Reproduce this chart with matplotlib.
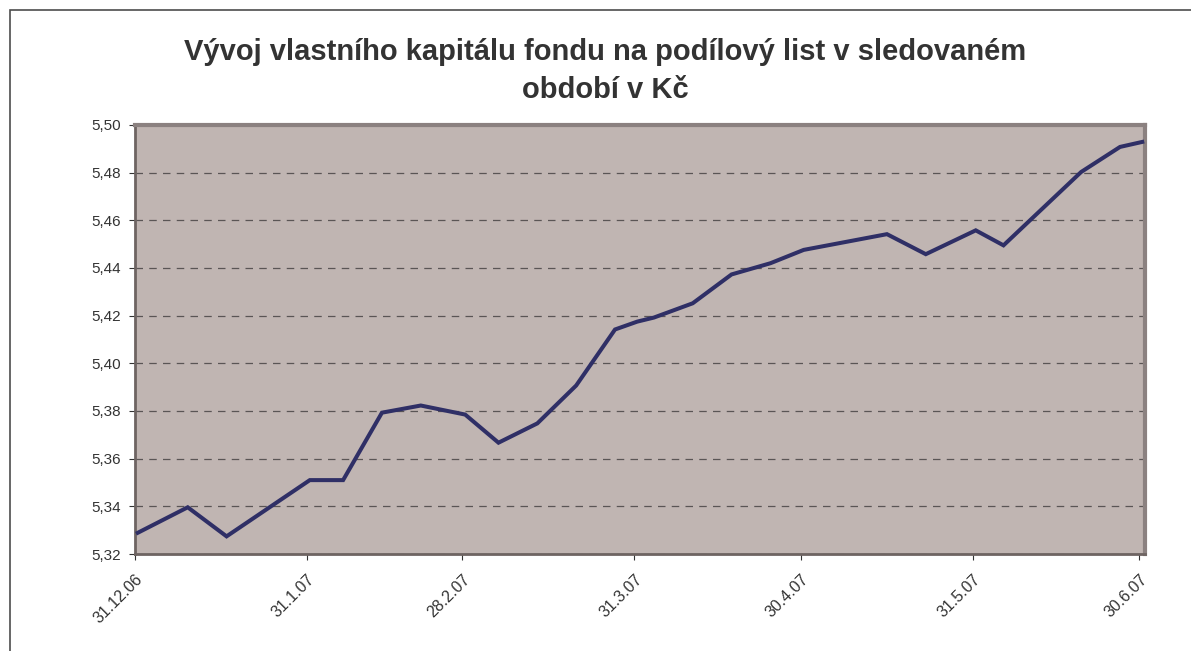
import matplotlib
matplotlib.use("Agg")
import matplotlib.pyplot as plt
import pandas as pd
from matplotlib.patches import Rectangle

plt.rcParams['font.family'] = ['Liberation Sans', 'DejaVu Sans']

# Data
dates = ["2006-12-31", "2007-01-09", "2007-01-16", "2007-01-31", "2007-02-06",
         "2007-02-13", "2007-02-20", "2007-02-28", "2007-03-06", "2007-03-13",
         "2007-03-20", "2007-03-27", "2007-03-31", "2007-04-03", "2007-04-10",
         "2007-04-17", "2007-04-24", "2007-04-30", "2007-05-15", "2007-05-22",
         "2007-05-31", "2007-06-05", "2007-06-19", "2007-06-26", "2007-06-30"]
values = [5.3289, 5.3396, 5.3274, 5.3510, 5.3510,
          5.3793, 5.3823, 5.3785, 5.3667, 5.3748,
          5.3907, 5.4142, 5.4175, 5.4192, 5.4252,
          5.4373, 5.4420, 5.4476, 5.4542, 5.4458,
          5.4558, 5.4495, 5.4803, 5.4908, 5.4929]
tick_dates = ["2006-12-31", "2007-01-31", "2007-02-28", "2007-03-31",
              "2007-04-30", "2007-05-31", "2007-06-30"]
tick_labels = ["31.12.06", "31.1.07", "28.2.07", "31.3.07", "30.4.07", "31.5.07", "30.6.07"]
y_ticks = [5.32, 5.34, 5.36, 5.38, 5.40, 5.42, 5.44, 5.46, 5.48, 5.50]
title = "Vývoj vlastního kapitálu fondu na podílový list v sledovaném\nobdobí v Kč"

x = pd.to_datetime(dates) + pd.Timedelta(hours=12)

fig = plt.figure(figsize=(11.91, 6.51), dpi=100)
fig.patch.set_facecolor('white')

# outer chart border (cropped at right/bottom)
fig.add_artist(Rectangle((10 / 1191, -0.1), 1.2, 1 - 10 / 651 + 0.1,
                         transform=fig.transFigure, fill=False,
                         edgecolor='#4d4d4d', linewidth=1.2))

ax = fig.add_axes([135 / 1191, 1 - 554 / 651, (1145 - 135) / 1191, (554 - 125) / 651])
ax.set_facecolor('#C0B5B2')

ax.plot(x, values, color='#2F2F66', linewidth=2.9, solid_joinstyle='miter', zorder=3)

ax.set_ylim(5.32, 5.50)
ax.set_yticks(y_ticks)
ax.set_yticklabels([f"{v:.2f}".replace('.', ',') for v in y_ticks])
ax.set_xlim(pd.Timestamp("2006-12-31"), pd.Timestamp("2007-07-01"))
ax.set_xticks(pd.to_datetime(tick_dates))
ax.set_xticklabels(tick_labels, rotation=45, ha='right', rotation_mode='anchor')

ax.yaxis.grid(True, linestyle=(0, (6, 5)), color='#5a5555', linewidth=0.9)
ax.set_axisbelow(True)

ax.tick_params(axis='both', direction='out', length=4, width=0.8, color='#333333',
               labelcolor='#333333')
ax.tick_params(axis='y', labelsize=11, pad=6)
ax.tick_params(axis='x', labelsize=11.5, pad=9)

for s in ['top', 'right']:
    ax.spines[s].set_color('#8B8180')
    ax.spines[s].set_linewidth(3)
for s in ['left', 'bottom']:
    ax.spines[s].set_color('#6e6462')
    ax.spines[s].set_linewidth(2)

fig.text(605 / 1191, 1 - 71 / 651, title, ha='center', va='center',
         fontsize=21, fontweight='bold', color='#333333', linespacing=1.45)

fig.savefig("out.png", dpi=100)
